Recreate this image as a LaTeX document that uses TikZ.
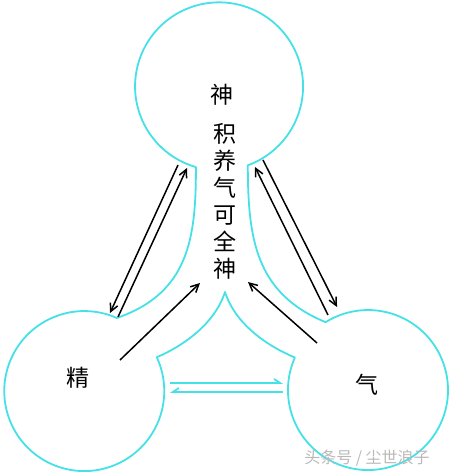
\documentclass[tikz,border=0pt]{standalone}
\usepackage{fontspec}
\newfontfamily\cjk{Noto Sans CJK SC}
\usetikzlibrary{arrows.meta}
\definecolor{bulb}{RGB}{70,225,230}
\definecolor{mark}{RGB}{185,185,185}
\tikzset{>={Straight Barb[length=8pt,width=8pt]}}
\tikzset{
	flow/.style={line width=1.5pt,->},
	zi/.style={font=\cjk\fontsize{23}{27}\selectfont,inner sep=0pt},
	wall/.style={draw=bulb,line width=1.8pt,line join=round}
}

\begin{document}
\begin{tikzpicture}[x=1pt,y=1pt]
		\useasboundingbox (0,0) rectangle (450,473);
		% the three bulbs
		\draw[wall] (247.8,307.7) arc[start angle=-70,end angle=254,radius=84]
			.. controls (196,235) and (189,180) .. (116.8,155)
			arc[start angle=66,end angle=385,radius=80]
			.. controls (185,128) and (215,150) .. (225,181)
			.. controls (235,150) and (265,128) .. (294.9,115.5)
			arc[start angle=156,end angle=482,radius=80]
			.. controls (255,180) and (248,235) .. cycle;
		% texts
		\node[zi] (shen) at (222,378) {神};
		\node[zi,align=center] (rule) at (225,272) {积\\养\\气\\可\\全\\神};
		\node[zi] (jing) at (78,95) {精};
		\node[zi] (qi) at (367,88) {气};
		\node[font=\cjk\fontsize{16}{16}\selectfont,text=mark] (wm) at (367,15) {头条号 / 尘世浪子};
		% arrow ends
		\coordinate (A1) at (178,308);
		\coordinate (A2) at (110,160);
		\coordinate (B1) at (118,156);
		\coordinate (B2) at (187,305);
		\coordinate (C1) at (328,158);
		\coordinate (C2) at (255,306);
		\coordinate (D1) at (263,313);
		\coordinate (D2) at (337,166);
		\coordinate (J1) at (120,113);
		\coordinate (J2) at (200,190);
		\coordinate (Q1) at (317,130);
		\coordinate (Q2) at (248,191);
		\coordinate (E1) at (170,90);
		\coordinate (E2) at (283,90);
		\coordinate (F1) at (170,81);
		\coordinate (F2) at (283,81);
		\draw[flow] (A1)--(A2);
		\draw[flow] (B1)--(B2);
		\draw[flow] (C1)--(C2);
		\draw[flow] (D1)--(D2);
		\draw[flow] (J1)--(J2);
		\draw[flow] (Q1)--(Q2);
		\draw[draw=bulb,line width=1.8pt,-{Straight Barb[left,length=6pt,width=8pt]}] (E1)--(E2);
		\draw[draw=bulb,line width=1.8pt,{Straight Barb[right,length=6pt,width=8pt]}-] (F1)--(F2);
	\end{tikzpicture}
\end{document}
